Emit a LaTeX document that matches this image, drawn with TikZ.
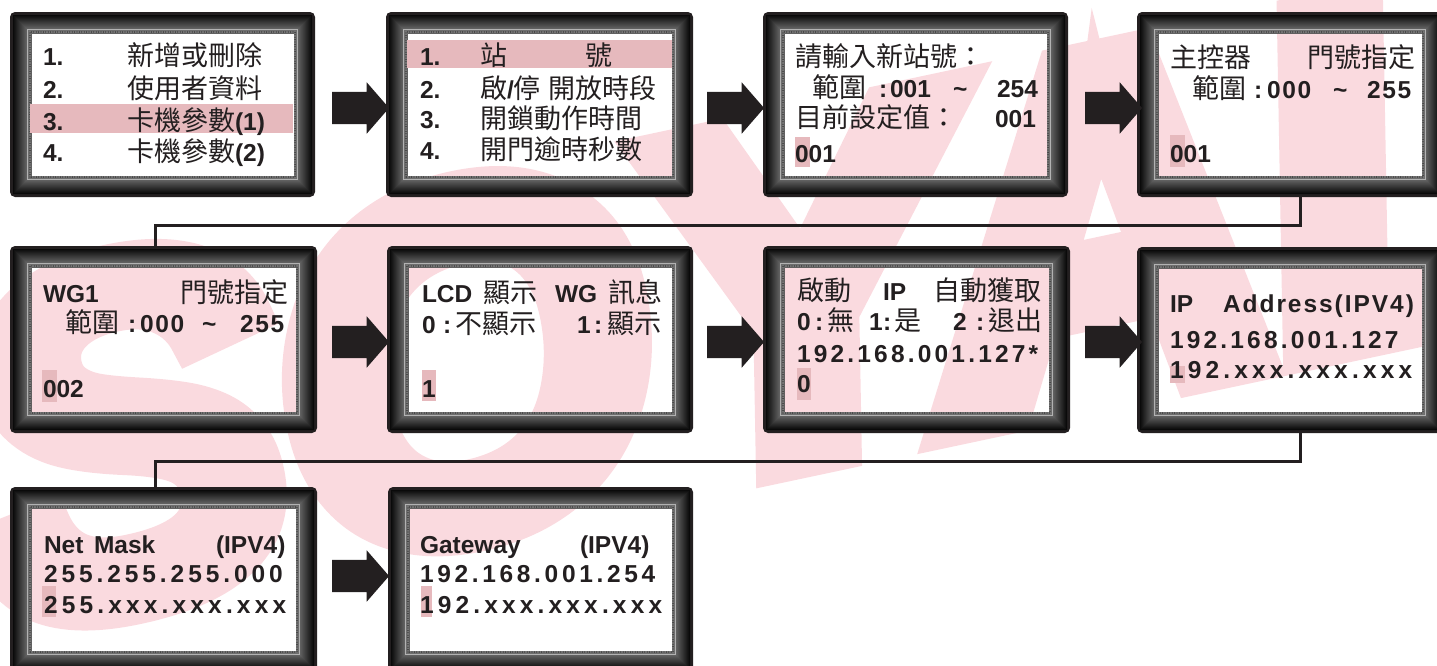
\documentclass[tikz,border=0pt]{standalone}
\usepackage{fontspec}
\usetikzlibrary{shapes.arrows}
\newfontfamily\latfam{Liberation Sans}
\newfontfamily\cjkfam{Noto Sans CJK TC}
\newfontfamily\wmfam{Liberation Sans}[FakeBold=8]
\newcommand\latb{\latfam\bfseries\fontsize{24.5}{28}\selectfont}
\newcommand\cjk{\cjkfam\fontsize{27}{30}\selectfont}
\newcommand\wmfont{\wmfam\bfseries\itshape\fontsize{480}{480}\selectfont}
\newcommand\ls[1]{\addfontfeature{LetterSpace=#1}}
\definecolor{ink}{HTML}{231F20}
\definecolor{hl}{HTML}{E6B9BD}
\definecolor{wmpink}{HTML}{FADADF}
\tikzset{
  tx/.style={anchor=base west, inner sep=0pt, outer sep=0pt, text=ink, font=\latb},
  cj/.style={tx, font=\cjk},
  hlbox/.style={fill=hl},
  conn/.style={draw=ink, line width=3pt},
  blockarr/.style={single arrow, fill=ink, draw=none, inner xsep=0pt, inner ysep=16pt,
    single arrow head extend=9.5pt, minimum height=57pt, single arrow tip angle=98},
  lcd/.style={inner sep=0pt, outer sep=0pt, draw=none},
  dotline/.style={draw=black!85, line width=1.3pt, dash pattern=on 0pt off 2.4pt, line cap=round},
  wmstyle/.style={font=\wmfont, text=wmpink, inner sep=0pt, rotate=12},
}
\newcommand\lcdframe[1]{%
  \fill[ink, even odd rule, rounded corners=5pt] (#1.south west) rectangle (#1.north east)
     [sharp corners] ([xshift=21pt,yshift=21pt]#1.south west) rectangle ([xshift=-21pt,yshift=-21pt]#1.north east);
  \foreach \i in {3,...,20}{%
    \pgfmathsetmacro\g{96-(\i-3)*2.6}%
    \fill[black!\g, even odd rule] ([xshift=\i pt,yshift=\i pt]#1.south west) rectangle ([xshift=-\i pt,yshift=-\i pt]#1.north east)
       ([xshift=21pt,yshift=21pt]#1.south west) rectangle ([xshift=-21pt,yshift=-21pt]#1.north east);}%
  \draw[draw=white!70!black, line width=0.8pt] ([xshift=17.5pt,yshift=17.5pt]#1.south west) rectangle ([xshift=-17.5pt,yshift=-17.5pt]#1.north east);
  \draw[dotline] ([xshift=20pt,yshift=20pt]#1.south west) rectangle ([xshift=-20pt,yshift=-20pt]#1.north east);
}
\begin{document}
\begin{tikzpicture}[x=1pt,y=-1pt]
\useasboundingbox (0,0) rectangle (1437,665);
% watermark
\node[wmstyle] (wm) at (755,300) {SOYAL};
% boxes
\node[lcd, minimum width=305pt, minimum height=185pt] (b1) at (162.5,104.5) {};
\node[lcd, minimum width=307pt, minimum height=185pt] (b2) at (539.5,104.5) {};
\node[lcd, minimum width=305pt, minimum height=185pt] (b3) at (915.5,104.5) {};
\node[lcd, minimum width=306pt, minimum height=185pt] (b4) at (1290,104.5) {};
\node[lcd, minimum width=307pt, minimum height=187pt] (b5) at (163.5,339.5) {};
\node[lcd, minimum width=306pt, minimum height=187pt] (b6) at (540,339.5) {};
\node[lcd, minimum width=307pt, minimum height=187pt] (b7) at (916.5,339.5) {};
\node[lcd, minimum width=306pt, minimum height=186pt] (b8) at (1290,340) {};
\node[lcd, minimum width=307pt, minimum height=185pt] (b9) at (163.5,579.5) {};
\node[lcd, minimum width=305pt, minimum height=185pt] (b10) at (540.5,579.5) {};
\lcdframe{b1}\lcdframe{b2}\lcdframe{b3}\lcdframe{b4}\lcdframe{b5}
\lcdframe{b6}\lcdframe{b7}\lcdframe{b8}\lcdframe{b9}\lcdframe{b10}
% arrows
\node[blockarr] (a1) at (353.5,108) {};
\node[blockarr] (a2) at (728.5,108) {};
\node[blockarr] (a3) at (1106.5,108) {};
\node[blockarr] (a4) at (353.5,342) {};
\node[blockarr] (a5) at (728.5,342) {};
\node[blockarr] (a6) at (1106.5,342) {};
\node[blockarr] (a7) at (353.5,576) {};
% connectors
\coordinate (k1) at (1300,225);
\coordinate (k2) at (155,225);
\coordinate (k3) at (1300,461);
\coordinate (k4) at (155,461);
\draw[conn] (b4.south -| k1) -- (k1) -- (k2) -- (b5.north -| k2);
\draw[conn] (b8.south -| k3) -- (k3) -- (k4) -- (b9.north -| k4);
% highlights
\fill[hlbox] (30,104) rectangle (293,133);
\fill[hlbox] (407,40) rectangle (672,68);
\fill[hlbox] (795,137) rectangle (810,167);
\fill[hlbox] (1170,135) rectangle (1185,167);
\fill[hlbox] (42,370) rectangle (57,402);
\fill[hlbox] (422,370) rectangle (436,401);
\fill[hlbox] (797,368) rectangle (811,400);
\fill[hlbox] (1170,366) rectangle (1185,383);
\fill[hlbox] (42,586) rectangle (56,617);
\fill[hlbox] (421,586) rectangle (432,617);
% box 1
\node[tx] (t1a) at (43,65) {1.};
\node[cj] (t1b) at (127,65) {新增或刪除};
\node[tx] (t1c) at (43,98) {2.};
\node[cj] (t1d) at (127,98) {使用者資料};
\node[tx] (t1e) at (43,130) {3.};
\node[cj] (t1f) at (127,130) {卡機參數{\latb(1)}};
\node[tx] (t1g) at (43,161) {4.};
\node[cj] (t1h) at (127,161) {卡機參數{\latb(2)}};
% box 2
\node[tx] (t2a) at (420,65) {1.};
\node[cj] (t2b) at (480,65) {站};
\node[cj] (t2c) at (585,65) {號};
\node[tx] (t2d) at (420,98) {2.};
\node[cj] (t2e) at (480,98) {啟{\latb/}停};
\node[cj] (t2f) at (548,98) {開放時段};
\node[tx] (t2g) at (420,128) {3.};
\node[cj] (t2h) at (480,128) {開鎖動作時間};
\node[tx] (t2i) at (420,159) {4.};
\node[cj] (t2j) at (480,159) {開門逾時秒數};
% box 3
\node[cj] (t3a) at (795,66) {請輸入新站號：};
\node[cj] (t3b) at (812,97) {範圍};
\node[tx] (t3c) at (879,97) {:};
\node[tx] (t3d) at (890,97) {001};
\node[tx] (t3e) at (953,97) {\char`\~};
\node[tx] (t3f) at (997,97) {254};
\node[cj] (t3g) at (795,127) {目前設定值：};
\node[tx] (t3h) at (995,127) {001};
\node[tx] (t3i) at (795,162) {001};
% box 4
\node[cj] (t4a) at (1170,67) {主控器};
\node[cj] (t4b) at (1307,67) {門號指定};
\node[cj] (t4c) at (1192,98) {範圍};
\node[tx] (t4d) at (1254,98) {:};
\node[tx] (t4e) at (1267,98) {\ls{7}000};
\node[tx] (t4f) at (1333,98) {\char`\~};
\node[tx] (t4g) at (1367,98) {\ls{7}255};
\node[tx] (t4h) at (1170,162) {001};
% box 5
\node[tx] (t5a) at (43,302) {WG1};
\node[cj] (t5b) at (180,302) {門號指定};
\node[cj] (t5c) at (65,332) {範圍};
\node[tx] (t5d) at (128,332) {:};
\node[tx] (t5e) at (140,332) {\ls{7}000};
\node[tx] (t5f) at (202,332) {\char`\~};
\node[tx] (t5g) at (240,332) {\ls{7}255};
\node[tx] (t5h) at (43,397) {002};
% box 6
\node[tx] (t6a) at (422,302) {LCD};
\node[cj] (t6b) at (483,302) {顯示};
\node[tx] (t6c) at (555,302) {WG};
\node[cj] (t6d) at (608,302) {訊息};
\node[tx] (t6e) at (422,333) {0};
\node[tx] (t6f) at (443,333) {:};
\node[cj] (t6g) at (455,333) {不顯示};
\node[tx] (t6h) at (577,333) {1};
\node[tx] (t6i) at (594,333) {:};
\node[cj] (t6j) at (607,333) {顯示};
\node[tx] (t6k) at (422,397) {1};
% box 7
\node[cj] (t7a) at (797,300) {啟動};
\node[tx] (t7b) at (883,300) {IP};
\node[cj] (t7c) at (933,300) {自動獲取};
\node[tx] (t7d) at (797,330) {0};
\node[tx] (t7e) at (815,330) {:};
\node[cj] (t7f) at (827,330) {無};
\node[tx] (t7g) at (869,330) {1};
\node[tx] (t7h) at (883,330) {:};
\node[cj] (t7i) at (894,330) {是};
\node[tx] (t7j) at (953,330) {2};
\node[tx] (t7k) at (976,330) {:};
\node[cj] (t7l) at (988,330) {退出};
\node[tx] (t7m) at (797,362) {\ls{13}192.168.001.127*};
\node[tx] (t7n) at (797,392) {0};
% box 8
\node[tx] (t8a) at (1170,312) {IP};
\node[tx] (t8b) at (1223,312) {\ls{8}Address(IPV4)};
\node[tx] (t8c) at (1170,348) {\ls{13}192.168.001.127};
\node[tx] (t8d) at (1170,378) {\ls{17}192.xxx.xxx.xxx};
% box 9
\node[tx] (t9a) at (44,553) {Net};
\node[tx] (t9b) at (94,553) {Mask};
\node[tx] (t9c) at (216,553) {(IPV4)};
\node[tx] (t9d) at (44,582) {\ls{16}255.255.255.000};
\node[tx] (t9e) at (44,613) {\ls{17}255.xxx.xxx.xxx};
% box 10
\node[tx] (t10a) at (420,553) {Gateway};
\node[tx] (t10b) at (580,553) {(IPV4)};
\node[tx] (t10c) at (420,582) {\ls{15}192.168.001.254};
\node[tx] (t10d) at (420,613) {\ls{17}192.xxx.xxx.xxx};
\end{tikzpicture}
\end{document}
